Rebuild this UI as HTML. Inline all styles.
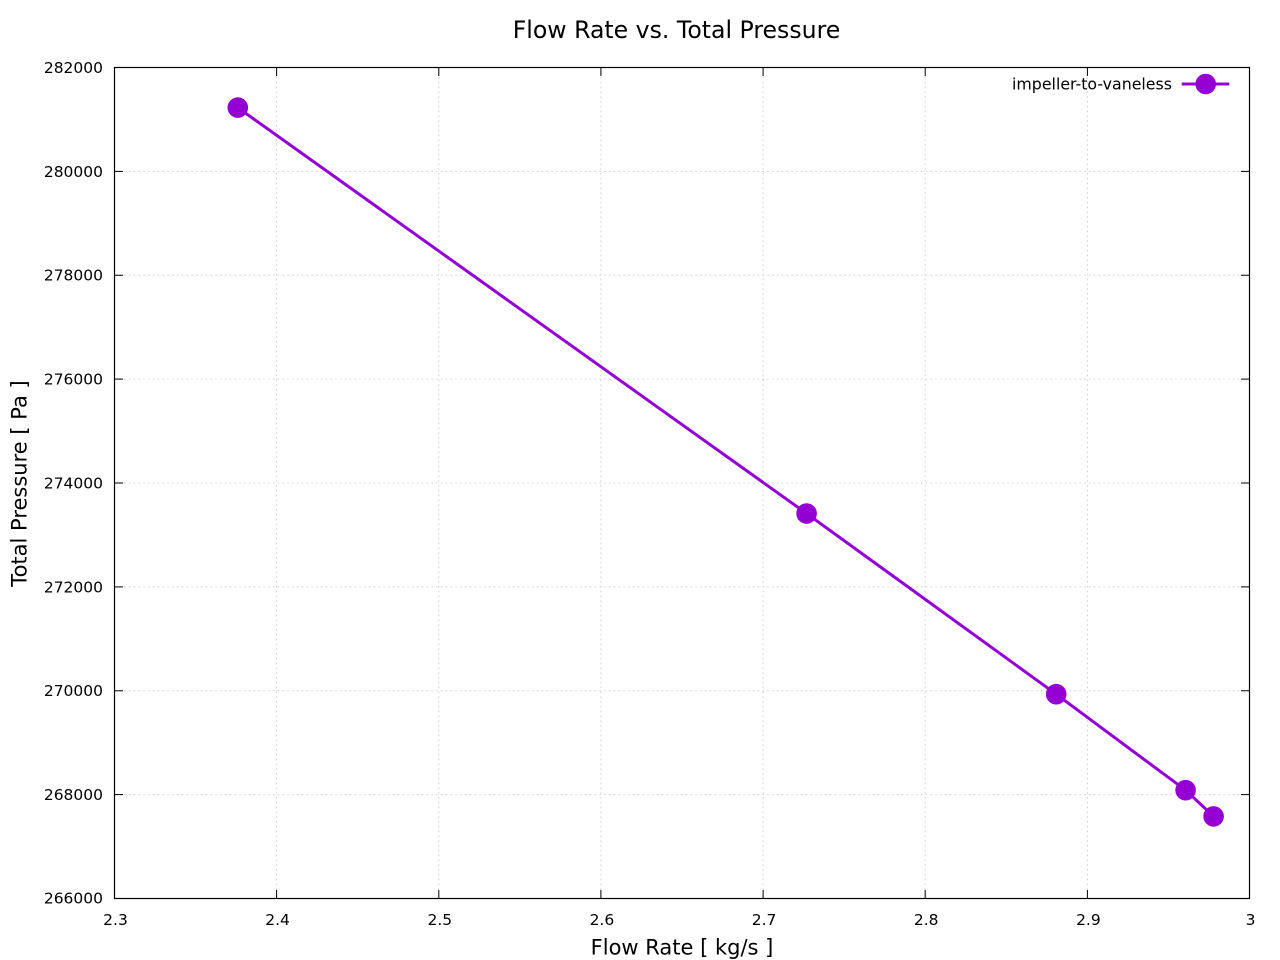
<!DOCTYPE html>
<html>
<head>
<meta charset="utf-8">
<style>
html,body{margin:0;padding:0;background:#fff;}
svg{display:block;}
text{font-family:"DejaVu Sans","Liberation Sans",sans-serif;fill:#000;}
</style>
</head>
<body>
<svg width="1280" height="960" viewBox="0 0 1280 960" xmlns="http://www.w3.org/2000/svg">
<rect width="1280" height="960" fill="#fff"/>
<!-- grid -->
<g stroke="#cccccc" stroke-width="1" stroke-dasharray="1.5,3.3" fill="none">
<line x1="276.6" y1="67.5" x2="276.6" y2="898.5"/>
<line x1="438.8" y1="67.5" x2="438.8" y2="898.5"/>
<line x1="600.9" y1="67.5" x2="600.9" y2="898.5"/>
<line x1="763.1" y1="67.5" x2="763.1" y2="898.5"/>
<line x1="925.2" y1="67.5" x2="925.2" y2="898.5"/>
<line x1="1087.4" y1="67.5" x2="1087.4" y2="898.5"/>
<line x1="114.5" y1="794.6" x2="1249.5" y2="794.6"/>
<line x1="114.5" y1="690.75" x2="1249.5" y2="690.75"/>
<line x1="114.5" y1="586.9" x2="1249.5" y2="586.9"/>
<line x1="114.5" y1="483" x2="1249.5" y2="483"/>
<line x1="114.5" y1="379.1" x2="1249.5" y2="379.1"/>
<line x1="114.5" y1="275.25" x2="1249.5" y2="275.25"/>
<line x1="114.5" y1="171.4" x2="1249.5" y2="171.4"/>
</g>
<!-- ticks -->
<g stroke="#000" stroke-width="1">
<line x1="276.6" y1="898.5" x2="276.6" y2="890"/><line x1="276.6" y1="67.5" x2="276.6" y2="76"/>
<line x1="438.8" y1="898.5" x2="438.8" y2="890"/><line x1="438.8" y1="67.5" x2="438.8" y2="76"/>
<line x1="600.9" y1="898.5" x2="600.9" y2="890"/><line x1="600.9" y1="67.5" x2="600.9" y2="76"/>
<line x1="763.1" y1="898.5" x2="763.1" y2="890"/><line x1="763.1" y1="67.5" x2="763.1" y2="76"/>
<line x1="925.2" y1="898.5" x2="925.2" y2="890"/><line x1="925.2" y1="67.5" x2="925.2" y2="76"/>
<line x1="1087.4" y1="898.5" x2="1087.4" y2="890"/><line x1="1087.4" y1="67.5" x2="1087.4" y2="76"/>
<line x1="114.5" y1="794.6" x2="123" y2="794.6"/><line x1="1249.5" y1="794.6" x2="1241" y2="794.6"/>
<line x1="114.5" y1="690.75" x2="123" y2="690.75"/><line x1="1249.5" y1="690.75" x2="1241" y2="690.75"/>
<line x1="114.5" y1="586.9" x2="123" y2="586.9"/><line x1="1249.5" y1="586.9" x2="1241" y2="586.9"/>
<line x1="114.5" y1="483" x2="123" y2="483"/><line x1="1249.5" y1="483" x2="1241" y2="483"/>
<line x1="114.5" y1="379.1" x2="123" y2="379.1"/><line x1="1249.5" y1="379.1" x2="1241" y2="379.1"/>
<line x1="114.5" y1="275.25" x2="123" y2="275.25"/><line x1="1249.5" y1="275.25" x2="1241" y2="275.25"/>
<line x1="114.5" y1="171.4" x2="123" y2="171.4"/><line x1="1249.5" y1="171.4" x2="1241" y2="171.4"/>
</g>
<!-- frame -->
<rect x="114.5" y="67.5" width="1135" height="831" fill="none" stroke="#000" stroke-width="1.2"/>
<!-- y tick labels -->
<g font-size="15.5" text-anchor="end">
<text x="103" y="903.5">266000</text>
<text x="103" y="800">268000</text>
<text x="103" y="696.2">270000</text>
<text x="103" y="592.4">272000</text>
<text x="103" y="488.5">274000</text>
<text x="103" y="384.6">276000</text>
<text x="103" y="280.7">278000</text>
<text x="103" y="176.9">280000</text>
<text x="103" y="73">282000</text>
</g>
<!-- x tick labels -->
<g font-size="15.5" text-anchor="middle">
<text x="115.5" y="925">2.3</text>
<text x="277.6" y="925">2.4</text>
<text x="439.8" y="925">2.5</text>
<text x="601.9" y="925">2.6</text>
<text x="764.1" y="925">2.7</text>
<text x="926.2" y="925">2.8</text>
<text x="1088.4" y="925">2.9</text>
<text x="1250.5" y="925">3</text>
</g>
<!-- title & axis labels -->
<text x="676.5" y="38" font-size="23.6" text-anchor="middle">Flow Rate vs. Total Pressure</text>
<text x="682" y="954.5" font-size="21" text-anchor="middle">Flow Rate [ kg/s ]</text>
<text transform="translate(26.5,483.5) rotate(-90)" font-size="21" text-anchor="middle">Total Pressure [ Pa ]</text>
<!-- series -->
<polyline points="237.8,107.6 806.6,513.5 1056.2,694.2 1185.6,790.2 1213.6,816.4" fill="none" stroke="#9400d3" stroke-width="3" stroke-linejoin="round"/>
<g fill="#9400d3">
<circle cx="237.8" cy="107.6" r="10.3"/>
<circle cx="806.6" cy="513.5" r="10.3"/>
<circle cx="1056.2" cy="694.2" r="10.3"/>
<circle cx="1185.6" cy="790.2" r="10.3"/>
<circle cx="1213.6" cy="816.4" r="10.3"/>
</g>
<!-- legend -->
<text x="1172" y="89.5" font-size="15.8" text-anchor="end">impeller-to-vaneless</text>
<line x1="1181.7" y1="84" x2="1229.3" y2="84" stroke="#9400d3" stroke-width="3"/>
<circle cx="1205.7" cy="84" r="10.3" fill="#9400d3"/>
</svg>
</body>
</html>
